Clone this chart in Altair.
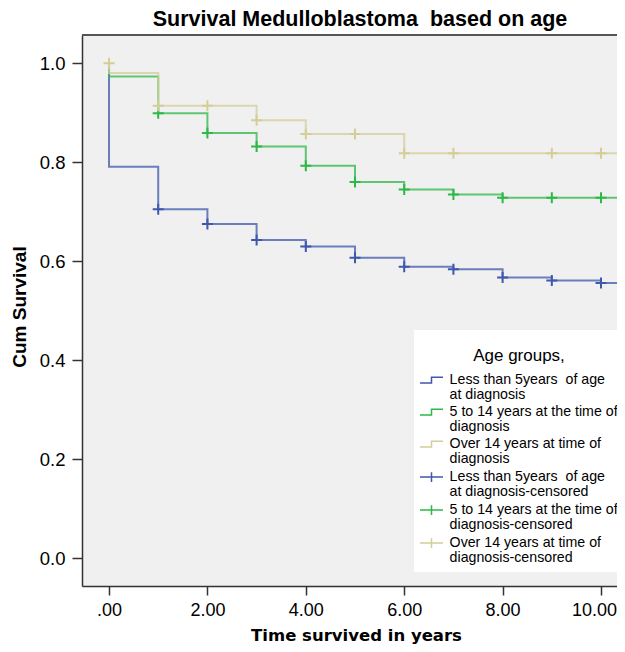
import altair as alt
import pandas as pd

# ---- data ----
line_labels = [
    "Less than 5years\u00a0 of age|at diagnosis",
    "5 to 14 years at the time of|diagnosis",
    "Over 14 years at time of|diagnosis",
]
cens_labels = [
    "Less than 5years\u00a0 of age|at diagnosis-censored",
    "5 to 14 years at the time of|diagnosis-censored",
    "Over 14 years at time of|diagnosis-censored",
]
colors = ["#3E58AC", "#2EB848", "#D3CE97"]

step_times = [0, 0, 1, 2, 3, 4, 5, 6, 7, 8, 9, 10, 11]
young_surv = [1.0, 0.791, 0.705, 0.675, 0.643, 0.630, 0.607, 0.589, 0.584, 0.567, 0.561, 0.556, 0.556]
mid_surv = [1.0, 0.973, 0.899, 0.859, 0.832, 0.793, 0.760, 0.745, 0.735, 0.728, 0.728, 0.728, 0.728]
old_surv = [1.0, 0.980, 0.914, 0.914, 0.885, 0.857, 0.857, 0.818, 0.818, 0.818, 0.818, 0.818, 0.818]

young_cens_t = [1, 2, 3, 4, 5, 6, 7, 8, 9, 10]
young_cens_s = [0.705, 0.675, 0.643, 0.630, 0.607, 0.589, 0.584, 0.567, 0.561, 0.556]
mid_cens_t = [1, 2, 3, 4, 5, 6, 7, 8, 9, 10]
mid_cens_s = [0.899, 0.859, 0.832, 0.793, 0.760, 0.745, 0.735, 0.728, 0.728, 0.728]
old_cens_t = [0, 1, 2, 3, 4, 5, 6, 7, 9, 10]
old_cens_s = [1.0, 0.914, 0.914, 0.885, 0.857, 0.857, 0.818, 0.818, 0.818, 0.818]

x_ticks = [0, 2, 4, 6, 8, 10]
y_ticks = [0.0, 0.2, 0.4, 0.6, 0.8, 1.0]

STEP_PATH = "M-2,0.5H0V-0.5H2"
CROSS_LEGEND_PATH = "M-2,0H2M0,-0.86V0.86"
CROSS_PATH = "M-1,0H1M0,-1V1"

# ---- tables ----
rows = []
for lab, surv in zip(line_labels, [young_surv, mid_surv, old_surv]):
    for i, (t, s) in enumerate(zip(step_times, surv)):
        rows.append({"t": t, "s": s, "lab": lab, "order": i})
lines_df = pd.DataFrame(rows)

rows = []
for lab, ts, ss in zip(cens_labels, [young_cens_t, mid_cens_t, old_cens_t],
                       [young_cens_s, mid_cens_s, old_cens_s]):
    for t, s in zip(ts, ss):
        rows.append({"t": t, "s": s, "lab": lab})
cens_df = pd.DataFrame(rows)

all_labels = line_labels + cens_labels
legend_df = pd.DataFrame({"lab": all_labels, "t": [0] * 6, "s": [1.0] * 6})

line_color = alt.Scale(domain=line_labels, range=colors)
cens_color = alt.Scale(domain=cens_labels, range=colors)
legend_color = alt.Scale(domain=all_labels, range=colors + colors)
shape_scale = alt.Scale(domain=all_labels, range=[STEP_PATH] * 3 + [CROSS_LEGEND_PATH] * 3)

W, H = 535, 551

x_enc = alt.X("t:Q", scale=alt.Scale(domain=[-0.549, 10.325], nice=False, zero=False),
              axis=alt.Axis(values=x_ticks, labelExpr="datum.value == 0 ? '.00' : format(datum.value, '.2f')",
                            grid=False, tickSize=9, tickWidth=1.5, tickColor="#333",
                            domainColor="#333", domainWidth=1.5,
                            labelFont="Liberation Sans", labelFontSize=18, labelColor="black",
                            labelPadding=6, labelFlush=False,
                            labelOffset={"condition": {"test": "datum.value == 10", "value": -7}, "value": 0},
                            title="Time survived in years", titleFont="DejaVu Sans",
                            titleFontSize=16.5, titleFontWeight="bold", titleColor="black",
                            titleX=274, titleY=54, titleAlign="center", titleBaseline="alphabetic"))
y_enc = alt.Y("s:Q", scale=alt.Scale(domain=[-0.056, 1.057], nice=False, zero=False),
              axis=alt.Axis(values=y_ticks, format=".1f", grid=False, tickSize=10, tickWidth=1.5,
                            tickColor="#333", domainColor="#333", domainWidth=1.5,
                            labelFont="Liberation Sans", labelFontSize=18.5, labelColor="black",
                            labelPadding=7, labelFlush=False,
                            title="Cum Survival", titleFont="Liberation Sans", titleFontSize=19,
                            titleFontWeight="bold", titleColor="black", titleAngle=270,
                            titleX=-62.5, titleY=271.5, titleAlign="center", titleBaseline="middle"))

lines = alt.Chart(lines_df).mark_line(interpolate="step-after", strokeWidth=2, opacity=0.75, clip=True).encode(
    x=x_enc, y=y_enc,
    color=alt.Color("lab:N", scale=line_color, legend=None),
    order="order:Q",
)

cens = alt.Chart(cens_df).mark_point(shape=CROSS_PATH, filled=False, size=121, strokeWidth=2,
                                     opacity=1, clip=True).encode(
    x="t:Q", y="s:Q",
    color=alt.Color("lab:N", scale=cens_color, legend=None),
)

legend = alt.Legend(
    title="Age groups,", orient="none", legendX=332, legendY=295,
    fillColor="white", padding=6,
    titleFont="Liberation Sans", titleFontSize=17, titleFontWeight="normal", titleColor="black",
    titleAnchor="middle", titlePadding=20, titleBaseline="line-top", titleLineHeight=41,
    labelFont="Liberation Sans", labelFontSize=14.2, labelColor="black", labelLimit=400,
    labelExpr="split(datum.label, '|')", labelOffset=11,
    symbolSize=132.25, symbolOffset=4.4, symbolStrokeWidth=1.5, symbolOpacity=1, rowPadding=2,
)

legend_layer = alt.Chart(legend_df).mark_point(filled=False, opacity=0, strokeWidth=1.5).encode(
    x="t:Q", y="s:Q",
    color=alt.Color("lab:N", scale=legend_color, legend=legend),
    shape=alt.Shape("lab:N", scale=shape_scale, legend=legend),
)

top_border = alt.Chart(pd.DataFrame({"a": [0]})).mark_rule(color="#555", strokeWidth=2).encode(
    x=alt.value(0), x2=alt.value(W), y=alt.value(0)
)

chart = alt.layer(lines, cens, legend_layer, top_border).resolve_scale(
    color="independent", shape="independent"
).properties(
    width=W, height=H,
    autosize="none",
    padding={"left": 74, "top": 27, "right": 0, "bottom": 58},
    title=alt.TitleParams(text="Survival Medulloblastoma\u00a0 based on age", font="Liberation Sans",
                          fontSize=21.5, fontWeight="bold", color="black", anchor="middle",
                          frame="group", baseline="alphabetic", offset=6, dx=10.5, dy=19),
).configure(
    style={"guide-label": {"lineHeight": 15}}
).configure_view(fill="#F0F0F0", stroke="transparent")

chart.save("out.html", embed_options={"renderer": "svg", "actions": False})
